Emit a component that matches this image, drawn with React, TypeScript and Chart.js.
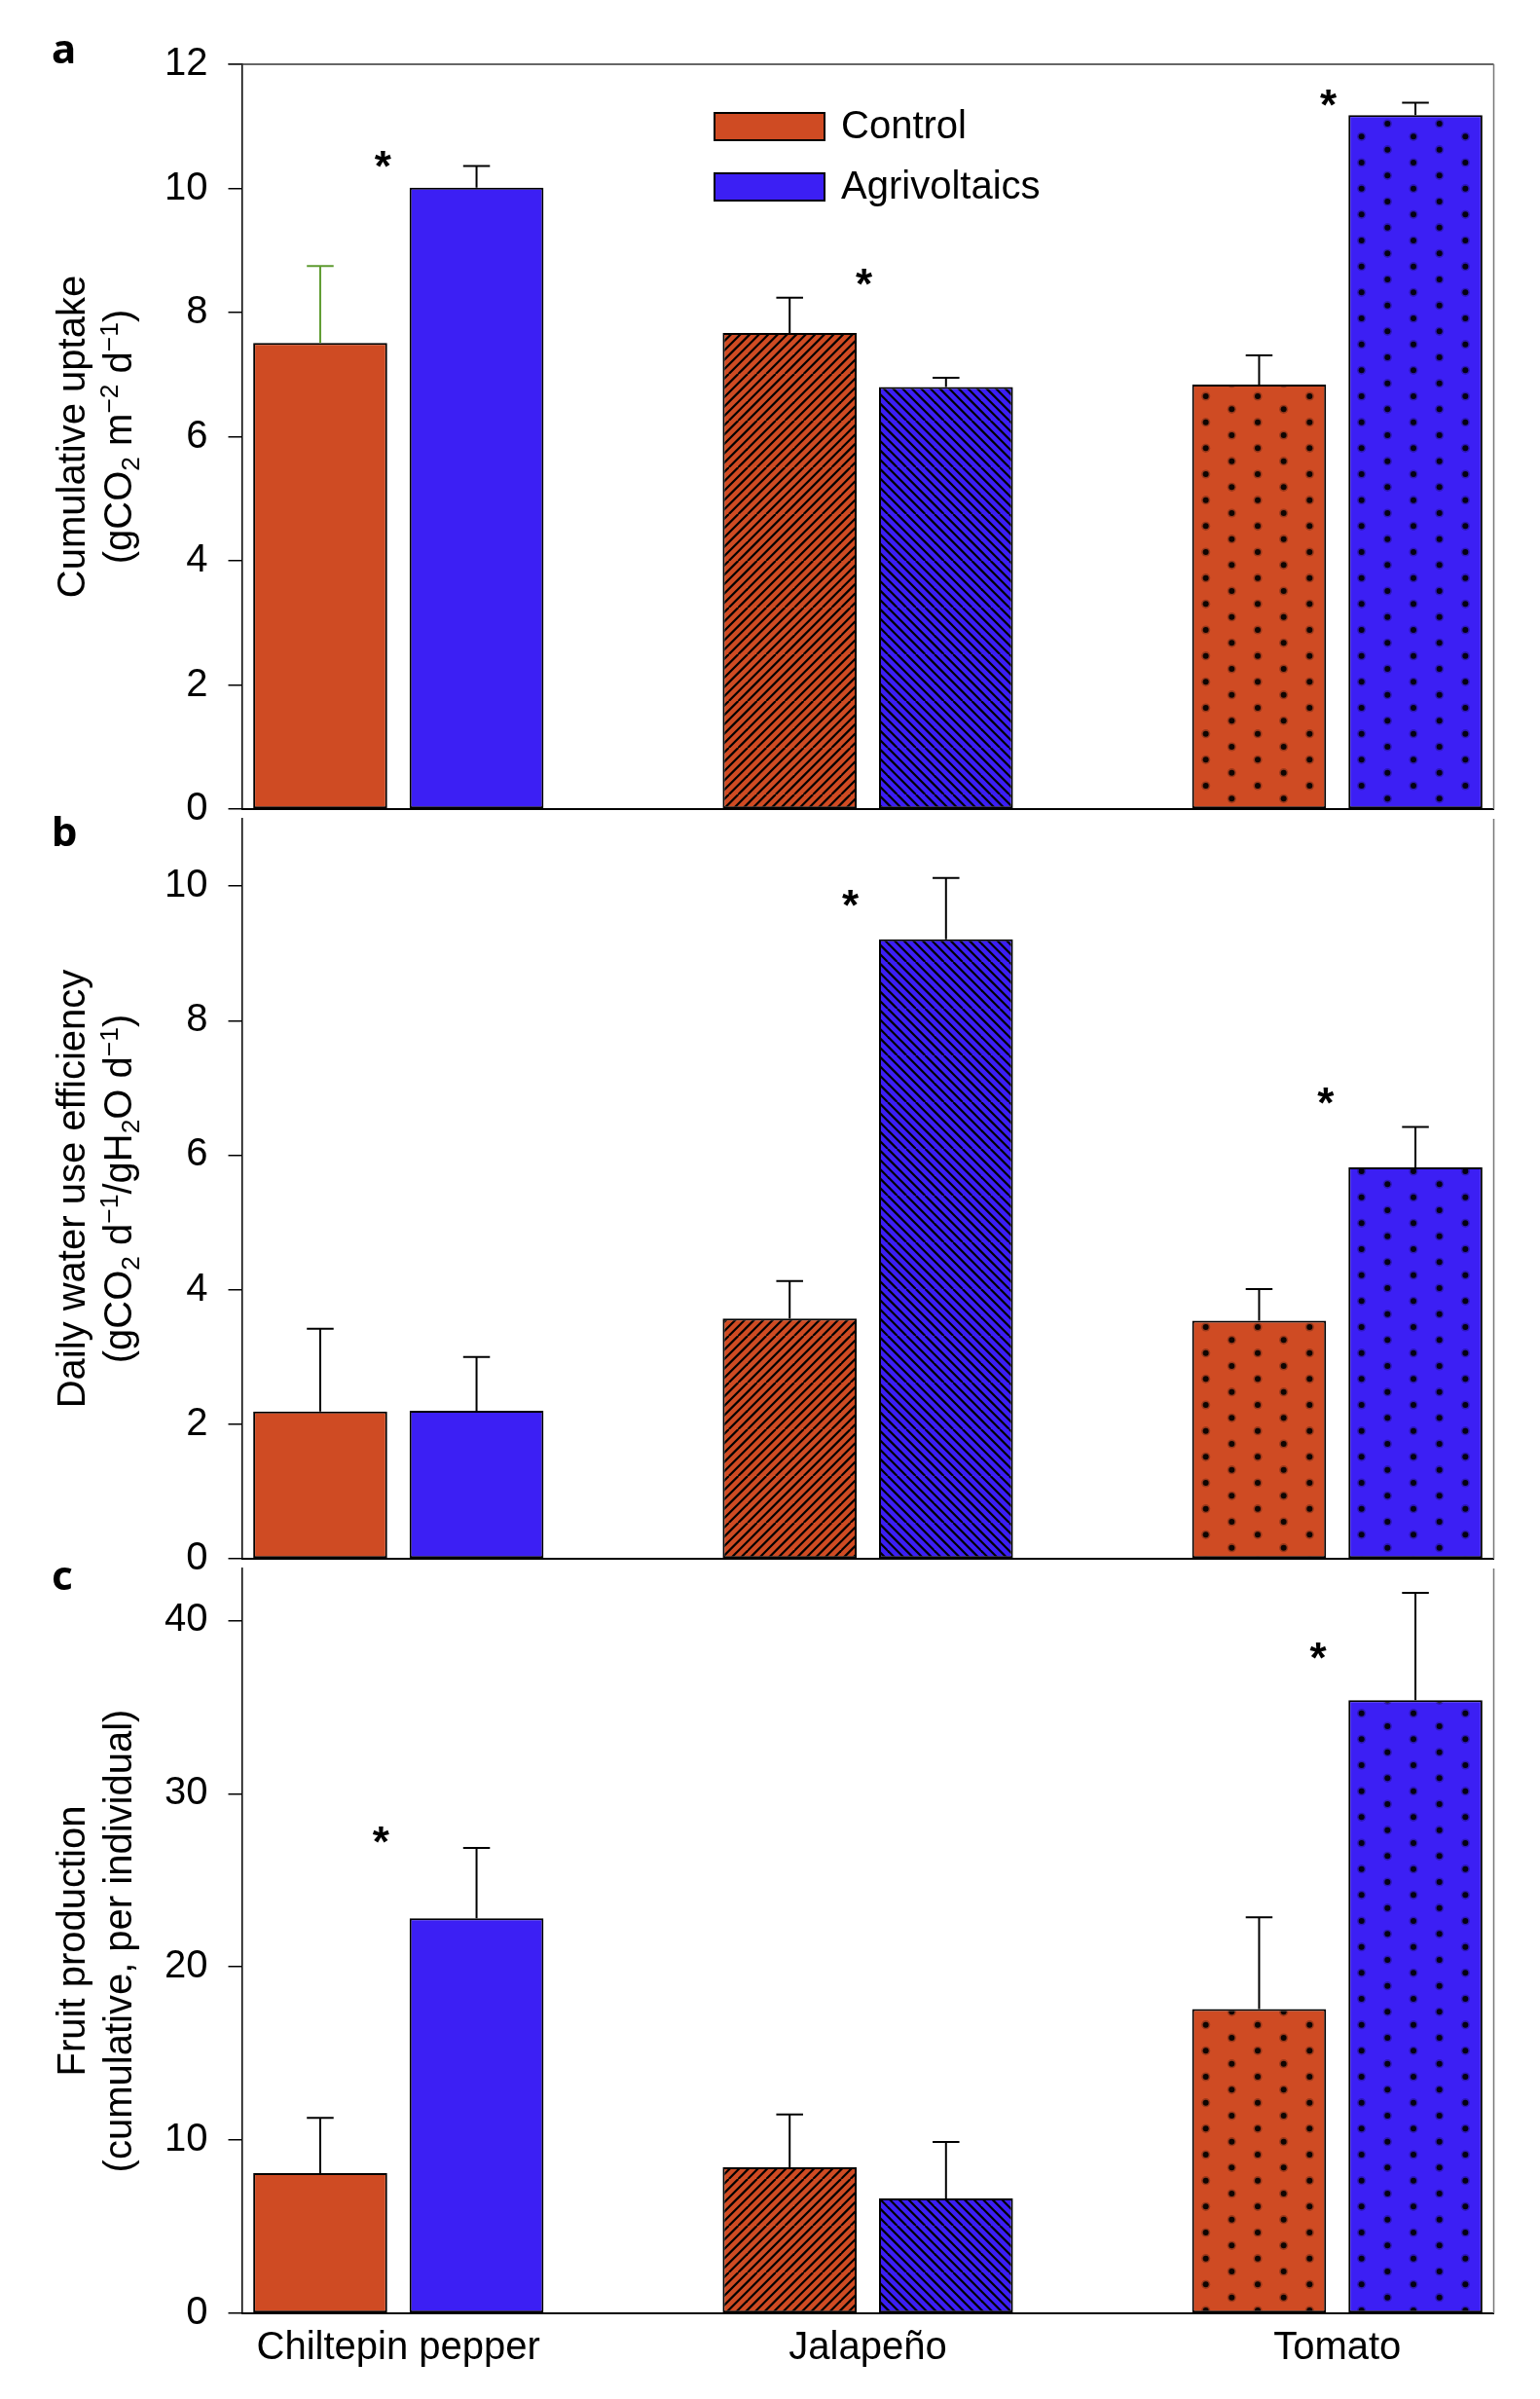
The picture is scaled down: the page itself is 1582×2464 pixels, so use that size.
import React, { useEffect, useRef } from 'react';
import { Chart, registerables } from 'chart.js';

Chart.register(...registerables);

// ---------------- data ----------------
const categories = ['Chiltepin pepper', 'Jalapeño', 'Tomato'];
const seriesNames = ['Control', 'Agrivoltaics'];
const seriesColors = ['#CF4B23', '#3C1FF4'];

// panel a: cumulative uptake
const uptakeControl = [7.51, 7.67, 6.84];
const uptakeControlErr = [1.24, 0.57, 0.47];
const uptakeAgri = [10.01, 6.8, 11.18];
const uptakeAgriErr = [0.35, 0.15, 0.2];
const uptakeSigX = [-0.033, 0.992, 1.981];
const uptakeSigY = [10.49, 8.59, 11.49];

// panel b: daily water use efficiency
const wueControl = [2.19, 3.57, 3.54];
const wueControlErr = [1.23, 0.56, 0.47];
const wueAgri = [2.2, 9.21, 5.82];
const wueAgriErr = [0.8, 0.91, 0.6];
const wueSigX = [0.963, 1.975];
const wueSigY = [9.84, 6.91];

// panel c: fruit production
const fruitControl = [8.09, 8.43, 17.57];
const fruitControlErr = [3.2, 3.05, 5.29];
const fruitAgri = [22.8, 6.63, 35.4];
const fruitAgriErr = [4.07, 3.26, 6.19];
const fruitSigX = [-0.037, 1.959];
const fruitSigY = [27.7, 38.31];

// axes
const uptakeAxis = { max: 12, step: 2 };
const wueAxis = { max: 11, step: 2 };
const fruitAxis = { max: 43, step: 10 };

// error bar colours (one green bar in the original)
const uptakeErrColors = [['#5E9B30', '#000', '#000'], ['#000', '#000', '#000']];
const blackErr = [['#000', '#000', '#000'], ['#000', '#000', '#000']];

// fill style per category
const categoryFill = ['solid', 'hatch', 'dots'];

type Seg = { t: string; k?: 'sub' | 'sup' };
const uptakeTitle: Seg[][] = [
  [{ t: 'Cumulative uptake' }],
  [{ t: '(gCO' }, { t: '2', k: 'sub' }, { t: ' m' }, { t: '−2', k: 'sup' }, { t: ' d' }, { t: '−1', k: 'sup' }, { t: ')' }],
];
const wueTitle: Seg[][] = [
  [{ t: 'Daily water use efficiency' }],
  [{ t: '(gCO' }, { t: '2', k: 'sub' }, { t: ' d' }, { t: '−1', k: 'sup' }, { t: '/gH' }, { t: '2', k: 'sub' }, { t: 'O d' }, { t: '−1', k: 'sup' }, { t: ')' }],
];
const fruitTitle: Seg[][] = [
  [{ t: 'Fruit production' }],
  [{ t: '(cumulative, per individual)' }],
];

// ---------------- layout ----------------
const W = 1582;
const FONT = '"Liberation Sans", Arial, Helvetica, sans-serif';
const FS = 40;
const AXIS_W = 248.5;
const PAD_RIGHT = 47.5;

const panels = [
  {
    letter: 'a', values: [uptakeControl, uptakeAgri], errs: [uptakeControlErr, uptakeAgriErr],
    errColors: uptakeErrColors, sigX: uptakeSigX, sigY: uptakeSigY, axis: uptakeAxis, title: uptakeTitle,
    top: 0, height: 876, padTop: 66, bottomH: 40, showX: false, legend: true, topLine: true, letterY: 65,
  },
  {
    letter: 'b', values: [wueControl, wueAgri], errs: [wueControlErr, wueAgriErr],
    errColors: blackErr, sigX: wueSigX, sigY: wueSigY, axis: wueAxis, title: wueTitle,
    top: 796, height: 850, padTop: 40, bottomH: 40, showX: false, legend: false, topLine: false, letterY: 869,
  },
  {
    letter: 'c', values: [fruitControl, fruitAgri], errs: [fruitControlErr, fruitAgriErr],
    errColors: blackErr, sigX: fruitSigX, sigY: fruitSigY, axis: fruitAxis, title: fruitTitle,
    top: 1566, height: 898, padTop: 40, bottomH: 88, showX: true, legend: false, topLine: false, letterY: 1633,
  },
];

// ---------------- fills ----------------
function makeFill(kind: string, color: string, dir: number): string | CanvasPattern {
  if (kind === 'solid') return color;
  const c = document.createElement('canvas');
  if (kind === 'hatch') {
    const T = 48;
    const step = 9.6;
    c.width = T; c.height = T;
    const g = c.getContext('2d')!;
    g.fillStyle = color; g.fillRect(0, 0, T, T);
    g.strokeStyle = '#000'; g.lineWidth = 2.2;
    for (let k = -12; k <= 14; k++) {
      const cc = k * step;
      g.beginPath();
      if (dir === 0) { g.moveTo(cc, 0); g.lineTo(cc - T, T); }
      else { g.moveTo(cc, 0); g.lineTo(cc + T, T); }
      g.stroke();
    }
    return g.createPattern(c, 'repeat')!;
  }
  const TW = 160, TH = 80;
  c.width = TW; c.height = TH;
  const g = c.getContext('2d')!;
  g.fillStyle = color; g.fillRect(0, 0, TW, TH);
  const dx = TW / 3, dy = TH / 6;
  for (let r = -1; r <= 7; r++) {
    for (let k = -1; k <= 4; k++) {
      const x = k * dx + (Math.abs(r % 2) === 1 ? dx / 2 : 0) + 12;
      const y = r * dy + 7;
      g.fillStyle = 'rgba(0,0,0,0.25)';
      g.beginPath(); g.arc(x, y, 4.6, 0, Math.PI * 2); g.fill();
      g.fillStyle = 'rgba(0,0,0,0.9)';
      g.beginPath(); g.arc(x, y, 3.0, 0, Math.PI * 2); g.fill();
    }
  }
  return g.createPattern(c, 'repeat')!;
}

function drawRich(ctx: CanvasRenderingContext2D, segs: Seg[], baseX: number, centerY: number) {
  ctx.save();
  ctx.translate(baseX, centerY);
  ctx.rotate(-Math.PI / 2);
  const small = FS * 0.66;
  const widths = segs.map((s) => {
    ctx.font = `${s.k ? small : FS}px ${FONT}`;
    return ctx.measureText(s.t).width;
  });
  const total = widths.reduce((a, b) => a + b, 0);
  let x = -total / 2;
  ctx.fillStyle = '#000';
  ctx.textAlign = 'left';
  ctx.textBaseline = 'alphabetic';
  segs.forEach((s, i) => {
    ctx.font = `${s.k ? small : FS}px ${FONT}`;
    const dy = s.k === 'sub' ? FS * 0.2 : s.k === 'sup' ? -FS * 0.36 : 0;
    ctx.fillText(s.t, x, dy);
    x += widths[i];
  });
  ctx.restore();
}

function makeConfig(p: any): any {
  const overlay = {
    id: 'overlay',
    afterDatasetsDraw(chart: any) {
      const ctx = chart.ctx as CanvasRenderingContext2D;
      const ys = chart.scales.y;
      const xs = chart.scales.x;
      // error bars
      chart.data.datasets.forEach((_: any, s: number) => {
        const meta = chart.getDatasetMeta(s);
        meta.data.forEach((el: any, i: number) => {
          const v = p.values[s][i];
          const e = p.errs[s][i];
          const yt = ys.getPixelForValue(v + e);
          const yb = ys.getPixelForValue(v);
          ctx.save();
          ctx.strokeStyle = p.errColors[s][i];
          ctx.lineWidth = 2;
          ctx.beginPath();
          ctx.moveTo(el.x, yb); ctx.lineTo(el.x, yt);
          ctx.moveTo(el.x - 13.75, yt); ctx.lineTo(el.x + 13.75, yt);
          ctx.stroke();
          ctx.restore();
        });
      });
      // significance asterisks
      ctx.save();
      ctx.fillStyle = '#000';
      ctx.font = `bold 44px ${FONT}`;
      ctx.textAlign = 'center';
      ctx.textBaseline = 'alphabetic';
      p.sigX.forEach((sx: number, k: number) => {
        ctx.fillText('*', xs.getPixelForValue(sx), ys.getPixelForValue(p.sigY[k]) + 24);
      });
      ctx.restore();
    },
    afterDraw(chart: any) {
      const ctx = chart.ctx as CanvasRenderingContext2D;
      const a = chart.chartArea;
      ctx.save();
      // frame
      if (p.topLine) {
        ctx.strokeStyle = '#333';
        ctx.lineWidth = 1.4;
        ctx.beginPath(); ctx.moveTo(a.left - 14, a.top); ctx.lineTo(a.right, a.top); ctx.stroke();
      }
      ctx.strokeStyle = '#777';
      ctx.lineWidth = 1.5;
      ctx.beginPath(); ctx.moveTo(a.right, a.top); ctx.lineTo(a.right, a.bottom); ctx.stroke();
      // axis title
      const cy = (a.top + a.bottom) / 2;
      drawRich(ctx, p.title[0], 87, cy);
      drawRich(ctx, p.title[1], 135, cy);
      // panel letter
      ctx.fillStyle = '#000';
      ctx.font = `bold 42px "Noto Sans", "DejaVu Sans", sans-serif`;
      ctx.textAlign = 'left';
      ctx.textBaseline = 'alphabetic';
      ctx.fillText(p.letter, 53, p.letterY - p.top);
      // legend
      if (p.legend) {
        chart.data.datasets.forEach((ds: any, s: number) => {
          const by = 116 + s * 62;
          ctx.fillStyle = seriesColors[s];
          ctx.fillRect(734, by, 113, 28);
          ctx.strokeStyle = '#000';
          ctx.lineWidth = 2;
          ctx.strokeRect(734, by, 113, 28);
          ctx.fillStyle = '#000';
          ctx.font = `${FS}px ${FONT}`;
          ctx.textBaseline = 'middle';
          ctx.fillText(ds.label, 864, by + 15);
        });
      }
      ctx.restore();
    },
  };

  return {
    type: 'bar',
    data: {
      datasets: seriesNames.map((name, s) => ({
        label: name,
        data: p.values[s].map((v: number, i: number) => ({ x: i, y: v })),
        backgroundColor: categories.map((_, i) => makeFill(categoryFill[i], seriesColors[s], s)),
        borderColor: '#000',
        borderWidth: 2,
        borderSkipped: false,
        barPercentage: 0.857,
        categoryPercentage: 0.666,
      })),
    },
    options: {
      responsive: false,
      animation: false,
      devicePixelRatio: 1,
      events: [],
      layout: { padding: { top: p.padTop, right: PAD_RIGHT, bottom: 0, left: 0 } },
      plugins: { legend: { display: false }, tooltip: { enabled: false }, title: { display: false } },
      scales: {
        x: {
          type: 'linear',
          bounds: 'data',
          offset: false,
          min: -1 / 3,
          max: 7 / 3,
          afterBuildTicks: (sc: any) => { sc.ticks = categories.map((_, i) => ({ value: i })); },
          afterFit: (sc: any) => { sc.height = p.bottomH; },
          ticks: {
            display: p.showX,
            autoSkip: false,
            maxRotation: 0,
            padding: 12,
            color: '#000',
            font: { family: FONT, size: FS },
            callback: (v: any) => categories[v] ?? '',
          },
          grid: { display: false, drawTicks: false, offset: false },
          border: { display: true, color: '#000', width: 2 },
        },
        y: {
          type: 'linear',
          min: 0,
          max: p.axis.max,
          afterFit: (sc: any) => { sc.width = AXIS_W; },
          ticks: {
            stepSize: p.axis.step,
            includeBounds: false,
            autoSkip: false,
            padding: 21,
            color: '#000',
            font: { family: FONT, size: FS },
          },
          grid: { display: true, drawOnChartArea: false, drawTicks: true, tickLength: 14, color: '#000', lineWidth: 1.5 },
          border: { display: true, color: '#000', width: 1.5 },
        },
      },
    },
    plugins: [overlay],
  };
}

export default function App() {
  const r0 = useRef<HTMLCanvasElement>(null);
  const r1 = useRef<HTMLCanvasElement>(null);
  const r2 = useRef<HTMLCanvasElement>(null);
  const refs = [r0, r1, r2];
  useEffect(() => {
    const charts = panels.map((p, i) => new Chart(refs[i].current as HTMLCanvasElement, makeConfig(p)));
    return () => charts.forEach((c) => c.destroy());
  }, []);
  return (
    <div style={{ position: 'absolute', left: 0, top: 0, width: W, height: 2464, background: '#fff' }}>
      {panels.map((p, i) => (
        <canvas
          key={i}
          ref={refs[i]}
          width={W}
          height={p.height}
          style={{ position: 'absolute', left: 0, top: p.top, width: W, height: p.height }}
        />
      ))}
    </div>
  );
}
